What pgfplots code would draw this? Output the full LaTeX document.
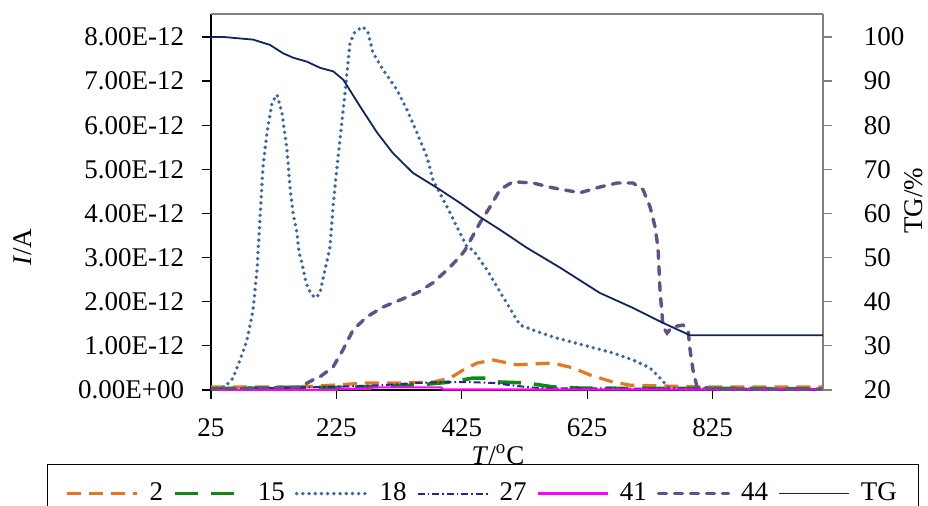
\documentclass[border=0pt]{standalone}
\usepackage{pgfplots}
\pgfplotsset{compat=1.18}
\usepackage{fontspec}
\setmainfont{Liberation Serif}
\definecolor{corange}{HTML}{E8761E}
\definecolor{cgreen}{HTML}{118811}
\definecolor{cdot}{HTML}{3B67A3}
\definecolor{cnavy}{HTML}{1A2A9A}
\definecolor{cmag}{HTML}{FF00FF}
\definecolor{cpurple}{HTML}{644F86}
\definecolor{ctg}{HTML}{0F2466}
\tikzset{
 s2/.style={color=corange, line width=1.6pt, dash pattern=on 7pt off 4pt},
 s15/.style={color=cgreen, line width=1.8pt, dash pattern=on 11.5pt off 6.5pt},
 s18/.style={color=cdot, line width=1.9pt, line cap=round, dash pattern=on 0pt off 3.1pt},
 s27/.style={color=cnavy, line width=1pt, dash pattern=on 3.5pt off 1.5pt on 0.8pt off 1.5pt},
 s41/.style={color=cmag, line width=1.1pt},
 s44/.style={color=cpurple, line width=1.7pt, line cap=round, dash pattern=on 4pt off 4pt},
 sTG/.style={color=ctg, line width=0.9pt},
}
\newcommand{\fs}{\fontsize{13.5}{16}\selectfont}
\begin{document}
\fs
\begin{tikzpicture}
\begin{axis}[
 scale only axis, width=306pt, height=188pt,
 xmin=25, xmax=1001, ymin=0, ymax=8.52,
 axis x line*=bottom, axis y line*=left,
 axis line style={black, line width=0.75pt},
 tick align=outside, major tick length=4.5pt,
 tick style={black, line width=0.6pt},
 xtick={25,225,425,625,825},
 ytick={0,1,2,3,4,5,6,7,8},
 yticklabels={0.00E+00,1.00E-12,2.00E-12,3.00E-12,4.00E-12,5.00E-12,6.00E-12,7.00E-12,8.00E-12},
 ticklabel style={font=\fs},
 /pgf/number format/assume math mode=true,
 xticklabel style={yshift=-5pt},
 yticklabel style={xshift=-4.3pt},
 xlabel={\textit{T}/\textsuperscript{o}C},
 xlabel style={at={(axis description cs:0.469,-0.197)}, anchor=base, font=\fs},
 ylabel={\textit{I}/A},
 ylabel style={at={(axis description cs:-0.2941,0.380)}, anchor=base, inner sep=0pt, font=\fs},
 legend columns=7,
 legend style={at={(axis description cs:-0.268,-0.197)}, anchor=north west,
   draw=black, line width=0.5pt, inner xsep=9pt, inner ysep=7pt,
   font=\fs,
   /tikz/every odd column/.append style={column sep=3.5pt},
   /tikz/every even column/.append style={column sep=3pt}},
 legend image code/.code={\draw[#1] (0pt,0pt) -- (35pt,0pt);},
 legend cell align=left,
]
\addplot[s2] coordinates {(25,0.07) (167,0.07) (219.6,0.11) (273.8,0.16) (326.4,0.16) (379.1,0.18) (406.2,0.27) (426.9,0.45) (449.2,0.61) (474.8,0.68) (513,0.57) (538.6,0.59) (570.5,0.61) (602.4,0.50) (629.5,0.34) (666.2,0.18) (693.3,0.11) (805,0.07) (1001,0.07)};
\addlegendentry{2}
\addplot[s15] coordinates {(25,0.03) (167,0.05) (273.8,0.07) (353.5,0.11) (406.2,0.18) (442.9,0.27) (465.2,0.27) (486,0.18) (527,0.16) (570.5,0.07) (618,0.04) (1001,0.03)};
\addlegendentry{15}
\addplot[s18] coordinates {(25,0.02) (47.3,0.07) (60.1,0.27) (71.3,0.68) (82.4,1.13) (92,1.81) (98.4,2.72) (100.5,3.24) (107.9,5.06) (114.3,5.83) (122.3,6.51) (130.3,6.69) (138.2,6.28) (146.2,5.44) (151,4.60) (155.8,4.01) (162.2,3.56) (165.4,3.11) (170.1,2.88) (173.3,2.65) (176.5,2.45) (179.7,2.31) (186.1,2.15) (192.5,2.09) (198.8,2.20) (206.8,2.72) (214.8,3.24) (219.6,4.15) (226,5.06) (230.7,5.67) (238.7,6.73) (246.7,7.87) (254.7,8.12) (267.4,8.23) (275.4,8.10) (283.4,7.64) (299.3,7.26) (321.7,6.80) (337.6,6.35) (353.5,5.83) (369.5,5.28) (379.1,4.76) (401.4,4.15) (422.1,3.56) (433.3,3.24) (442.9,3.17) (465.2,2.72) (490.7,2.11) (517.8,1.47) (538.6,1.36) (570.5,1.20) (618.3,1.02) (666.2,0.84) (698,0.68) (725.2,0.50) (741.1,0.27) (753.9,0.07) (773,0.02) (1001,0.02)};
\addlegendentry{18}
\addplot[s27] coordinates {(25,0.02) (219.6,0.07) (299,0.11) (353.5,0.16) (395,0.18) (433,0.18) (474.8,0.16) (513,0.09) (550,0.04) (1001,0.02)};
\addlegendentry{27}
\addplot[s41] coordinates {(25,0) (225,0) (228,0.03) (280,0.03) (283,0.06) (392,0.06) (395,0.01) (1001,0.01)};
\addlegendentry{41}
\addplot[s44] coordinates {(25,0.02) (167,0.07) (187.7,0.23) (198.8,0.30) (219.6,0.52) (235.5,0.91) (251.5,1.36) (273.8,1.66) (299.3,1.88) (326.4,2.04) (353.5,2.20) (379.1,2.43) (401.4,2.72) (422.1,3.02) (430.1,3.17) (454,3.79) (470,4.15) (485.9,4.54) (506.7,4.72) (538.6,4.69) (570.5,4.58) (613.5,4.47) (645.4,4.60) (672.5,4.69) (698,4.69) (714,4.54) (725.2,4.15) (733.1,3.70) (737.9,3.22) (741.1,2.27) (745.9,1.43) (752.3,1.29) (760.3,1.43) (777.8,1.47) (785.8,1.36) (789,0.91) (793.7,0.45) (800.1,0.07) (837,0.02) (1001,0.02)};
\addlegendentry{44}
\addlegendimage{sTG}
\addlegendentry{TG}
\end{axis}
\begin{axis}[
 scale only axis, width=306pt, height=188pt,
 xmin=25, xmax=1001, ymin=20, ymax=105.2,
 axis x line*=top, axis y line*=right,
 axis line style={gray, line width=0.6pt},
 xtick=\empty,
 tick align=outside, major tick length=4.5pt,
 tick style={gray, line width=0.6pt},
 ytick={20,30,40,50,60,70,80,90,100},
 ticklabel style={font=\fs},
 /pgf/number format/assume math mode=true,
 yticklabel style={xshift=11.3pt},
 ylabel={TG/\%},
 ylabel style={at={(axis description cs:1.1618,0.503)}, anchor=base, inner sep=0pt, font=\fs},
]
\addplot[sTG] coordinates {(25,100) (45,100) (60,99.8) (92,99.4) (119,98.2) (140,96.3) (156,95.3) (178,94.4) (199,93.0) (220,92.2) (236,90.3) (263,84.2) (290,78.3) (315,73.7) (347,69.2) (390,65.4) (422,62.4) (454,59.2) (486,56.3) (529,52.2) (582,47.7) (645,42.0) (698,38.6) (746,35.2) (789,32.4) (1001,32.4)};
\end{axis}
\pgfresetboundingbox
\path[use as bounding box] (-105.5pt,-57.5pt) rectangle (358.5pt,195pt);
\end{tikzpicture}
\end{document}
